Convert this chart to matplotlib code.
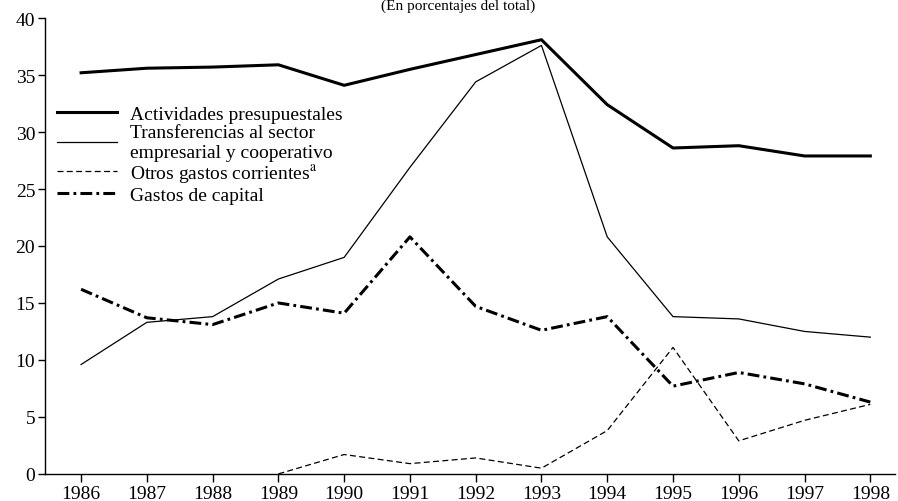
import matplotlib
matplotlib.use("Agg")
import numpy as np
import matplotlib.pyplot as plt

years = list(range(1986, 1999))
actividades = [35.2, 35.6, 35.7, 35.9, 34.1, 35.5, 36.8, 38.1, 32.4, 28.6, 28.8, 27.9, 27.9]
transferencias = [9.6, 13.3, 13.8, 17.1, 19.0, 26.9, 34.4, 37.6, 20.8, 13.8, 13.6, 12.5, 12.0]
otros = [np.nan, np.nan, np.nan, 0.0, 1.7, 0.9, 1.4, 0.5, 3.8, 11.1, 2.9, 4.7, 6.1]
capital = [16.2, 13.7, 13.1, 15.0, 14.1, 20.8, 14.7, 12.6, 13.8, 7.7, 8.9, 7.9, 6.3]

plt.rcParams['font.family'] = ['Liberation Serif', 'DejaVu Serif']
plt.rcParams['mathtext.fontset'] = 'stix'
plt.rcParams['lines.scale_dashes'] = False

fig = plt.figure(figsize=(8.98, 5.02), dpi=100)
ax = fig.add_axes([0.050, 0.054, 0.947, 0.908])

ax.plot(years, actividades, color='black', lw=2.2, label='Actividades presupuestales')
ax.plot(years, transferencias, color='black', lw=0.9,
        label='Transferencias al sector\nempresarial y cooperativo')
ax.plot(years, otros, color='black', lw=0.9, linestyle=(0, (4.3, 2.4)),
        label='Otros gastos corrientes$^{\\mathrm{a}}$')
ax.plot(years, capital, color='black', lw=2.2, linestyle=(0, (8.5, 3.0, 2.0, 3.0)),
        label='Gastos de capital')

ax.set_xlim(1985.45, 1998.38)
ax.set_ylim(0, 40)
ax.set_xticks(years)
ax.set_yticks(range(0, 41, 5))
for s in ['top', 'right']:
    ax.spines[s].set_visible(False)
ax.spines['left'].set_linewidth(1.0)
ax.spines['bottom'].set_linewidth(1.0)
ax.tick_params(axis='both', direction='out', labelsize=14, width=1.0, colors='black')
ax.tick_params(axis='y', length=5, pad=2)
ax.tick_params(axis='x', length=6, pad=2)

leg = ax.legend(loc='upper left', bbox_to_anchor=(0.0, 0.834), frameon=False,
                fontsize=14, handlelength=3.1, handletextpad=0.7,
                labelspacing=0.06, borderaxespad=0.2)
for t in leg.get_texts():
    t.set_linespacing(1.2)

fig.text(0.51, 1.0, '(En porcentajes del total)', ha='center', va='top',
         fontsize=11)

fig.savefig('out.png', dpi=100)
